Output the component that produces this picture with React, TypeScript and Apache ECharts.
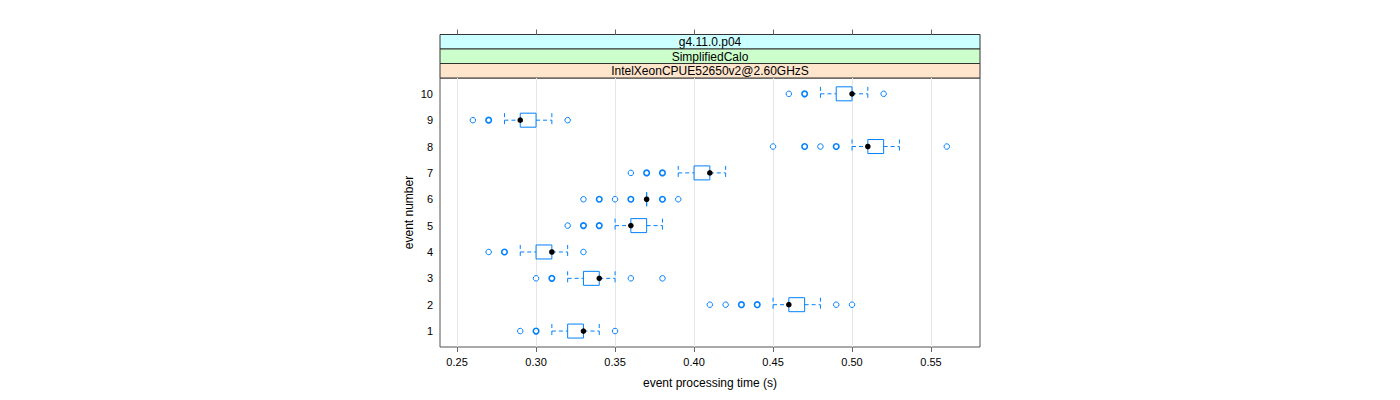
import React, { useEffect, useRef } from "react";
import * as echarts from "echarts";

const events = [1, 2, 3, 4, 5, 6, 7, 8, 9, 10];
const whiskerLow = [0.31, 0.45, 0.32, 0.29, 0.35, 0.37, 0.39, 0.5, 0.28, 0.48];
const q1 = [0.32, 0.46, 0.33, 0.3, 0.36, 0.37, 0.4, 0.51, 0.29, 0.49];
const median = [0.33, 0.46, 0.34, 0.31, 0.36, 0.37, 0.41, 0.51, 0.29, 0.5];
const q3 = [0.33, 0.47, 0.34, 0.31, 0.37, 0.37, 0.41, 0.52, 0.3, 0.5];
const whiskerHigh = [0.34, 0.48, 0.35, 0.32, 0.38, 0.37, 0.42, 0.53, 0.31, 0.51];
const outliers = [
  [0.29, 0.3, 0.3, 0.35],
  [0.41, 0.42, 0.43, 0.43, 0.44, 0.44, 0.49, 0.5],
  [0.3, 0.31, 0.31, 0.36, 0.38],
  [0.27, 0.28, 0.28, 0.33],
  [0.32, 0.33, 0.33, 0.34, 0.34],
  [0.33, 0.34, 0.34, 0.35, 0.36, 0.36, 0.38, 0.38, 0.39],
  [0.36, 0.37, 0.37, 0.38, 0.38],
  [0.45, 0.47, 0.47, 0.48, 0.49, 0.49, 0.56],
  [0.26, 0.27, 0.27, 0.32],
  [0.46, 0.47, 0.47, 0.52],
];
const xTicks = [0.25, 0.3, 0.35, 0.4, 0.45, 0.5, 0.55];
const yTicks = [1, 2, 3, 4, 5, 6, 7, 8, 9, 10];
const stripLabels = ["g4.11.0.p04", "SimplifiedCalo", "IntelXeonCPUE52650v2@2.60GHzS"];
const stripColors = ["#ccffff", "#ccffcc", "#ffe5cc"];
const xTitle = "event processing time (s)";
const yTitle = "event number";

const X_MIN = 0.2392;
const X_MAX = 0.581;
const Y_MIN = 0.395;
const Y_MAX = 10.6;

const BLUE = "#0080ff";
const FONT = "Liberation Sans, Arial, Helvetica, sans-serif";

export default function App() {
  const ref = useRef<HTMLDivElement>(null);
  useEffect(() => {
    if (!ref.current) return;
    const chart = echarts.init(ref.current, undefined, { renderer: "svg" });

    const boxData = events.map((e, i) => [e, whiskerLow[i], q1[i], median[i], q3[i], whiskerHigh[i]]);
    const outlierData: any[] = [];
    events.forEach((e, i) => {
      const counts: Record<string, number> = {};
      outliers[i].forEach((v) => {
        const k = v.toFixed(3);
        counts[k] = (counts[k] || 0) + 1;
      });
      Object.keys(counts).forEach((k) => {
        const c = counts[k];
        outlierData.push({
          value: [parseFloat(k), e],
          itemStyle: { borderWidth: c > 1 ? 1.6 : 1 },
        });
      });
    });

    const L = 440, R = 980, T = 78, B = 347;
    const stripTop = 34.5;
    const stripH = (T - stripTop) / 3;

    const graphics: any[] = stripLabels.map((lab, i) => ({
      type: "group",
      children: [
        {
          type: "rect",
          shape: { x: L, y: stripTop + i * stripH, width: R - L, height: stripH },
          style: { fill: stripColors[i], stroke: "#333", lineWidth: 1 },
        },
        {
          type: "text",
          x: (L + R) / 2,
          y: stripTop + i * stripH + stripH / 2 + 0.5,
          style: {
            text: lab,
            fill: "#000",
            font: `12px ${FONT}`,
            align: "center",
            verticalAlign: "middle",
          },
        },
      ],
    }));

    const option: any = {
      animation: false,
      backgroundColor: "#fff",
      grid: [
        { left: L, top: T, width: R - L, height: B - T, show: true, borderColor: "#555", borderWidth: 1, backgroundColor: "transparent" },
        { left: L, top: stripTop, width: R - L, height: T - stripTop, show: false },
      ],
      xAxis: [
        {
          type: "value",
          gridIndex: 0,
          min: X_MIN,
          max: X_MAX,
          name: xTitle,
          nameLocation: "middle",
          nameGap: 30,
          nameTextStyle: { color: "#000", fontSize: 12, fontFamily: FONT },
          axisLine: { show: false, onZero: false },
          axisTick: { show: true, customValues: xTicks, length: 5, lineStyle: { color: "#666" } },
          axisLabel: {
            customValues: xTicks,
            color: "#000",
            fontSize: 11,
            fontFamily: FONT,
            margin: 9,
            formatter: (v: number) => v.toFixed(2),
          },
          splitLine: { show: false },
        },
        {
          type: "value",
          gridIndex: 1,
          position: "top",
          min: X_MIN,
          max: X_MAX,
          axisLine: { show: false, onZero: false },
          axisTick: { show: true, customValues: xTicks, length: 5, lineStyle: { color: "#666" } },
          axisLabel: { show: false },
          splitLine: { show: false },
        },
      ],
      yAxis: [
        {
          type: "value",
          gridIndex: 0,
          min: Y_MIN,
          max: Y_MAX,
          name: yTitle,
          nameLocation: "middle",
          nameGap: 25,
          nameTextStyle: { color: "#000", fontSize: 12, fontFamily: FONT },
          axisLine: { show: false, onZero: false },
          axisTick: { show: false },
          axisLabel: {
            customValues: yTicks,
            color: "#000",
            fontSize: 11,
            fontFamily: FONT,
            margin: 7,
          },
          splitLine: { show: false },
        },
        {
          type: "value",
          gridIndex: 1,
          min: 0,
          max: 1,
          show: false,
        },
      ],
      graphic: graphics,
      series: [
        {
          type: "custom",
          xAxisIndex: 0,
          yAxisIndex: 0,
          z: 0,
          silent: true,
          data: xTicks.map((v) => [v]),
          renderItem: (params: any, api: any) => {
            const v = api.value(0);
            const p1 = api.coord([v, Y_MIN]);
            const p2 = api.coord([v, Y_MAX]);
            return {
              type: "line",
              shape: { x1: Math.round(p1[0]) + 0.5, y1: p1[1], x2: Math.round(p2[0]) + 0.5, y2: p2[1] },
              style: { stroke: "#e6e6e6", lineWidth: 1 },
            };
          },
        },
        {
          type: "custom",
          xAxisIndex: 0,
          yAxisIndex: 0,
          z: 3,
          silent: true,
          data: boxData,
          encode: { x: [1, 2, 3, 4, 5], y: 0 },
          renderItem: (params: any, api: any) => {
            const e = api.value(0);
            const pWl = api.coord([api.value(1), e]);
            const pQ1 = api.coord([api.value(2), e]);
            const pMed = api.coord([api.value(3), e]);
            const pQ3 = api.coord([api.value(4), e]);
            const pWh = api.coord([api.value(5), e]);
            const h = 7;
            const y = pMed[1];
            const dash = { stroke: BLUE, lineWidth: 1, lineDash: [4, 3] };
            const children: any[] = [];
            if (pQ1[0] - pWl[0] > 0.5) {
              children.push({ type: "line", shape: { x1: pWl[0], y1: y, x2: pQ1[0], y2: y }, style: dash });
            }
            if (pWh[0] - pQ3[0] > 0.5) {
              children.push({ type: "line", shape: { x1: pQ3[0], y1: y, x2: pWh[0], y2: y }, style: dash });
            }
            if (pWl[0] < pQ1[0] - 0.5 || pWh[0] > pQ3[0] + 0.5) {
              children.push({ type: "line", shape: { x1: pWl[0], y1: y - h, x2: pWl[0], y2: y + h }, style: dash });
              children.push({ type: "line", shape: { x1: pWh[0], y1: y - h, x2: pWh[0], y2: y + h }, style: dash });
            }
            children.push({
              type: "rect",
              shape: { x: pQ1[0], y: y - h, width: pQ3[0] - pQ1[0], height: 2 * h },
              style: { fill: "none", stroke: BLUE, lineWidth: 1 },
            });
            children.push({
              type: "circle",
              shape: { cx: pMed[0], cy: y, r: 2.8 },
              style: { fill: "#000" },
            });
            return { type: "group", children };
          },
        },
        {
          type: "scatter",
          xAxisIndex: 0,
          yAxisIndex: 0,
          z: 2,
          silent: true,
          symbol: "circle",
          symbolSize: 5.5,
          data: outlierData,
          itemStyle: { color: "#fff", borderColor: BLUE, borderWidth: 1, opacity: 1 },
        },
      ],
    };
    chart.setOption(option);
    return () => chart.dispose();
  }, []);
  return <div ref={ref} style={{ width: 1400, height: 400, margin: -8 }} />;
}
